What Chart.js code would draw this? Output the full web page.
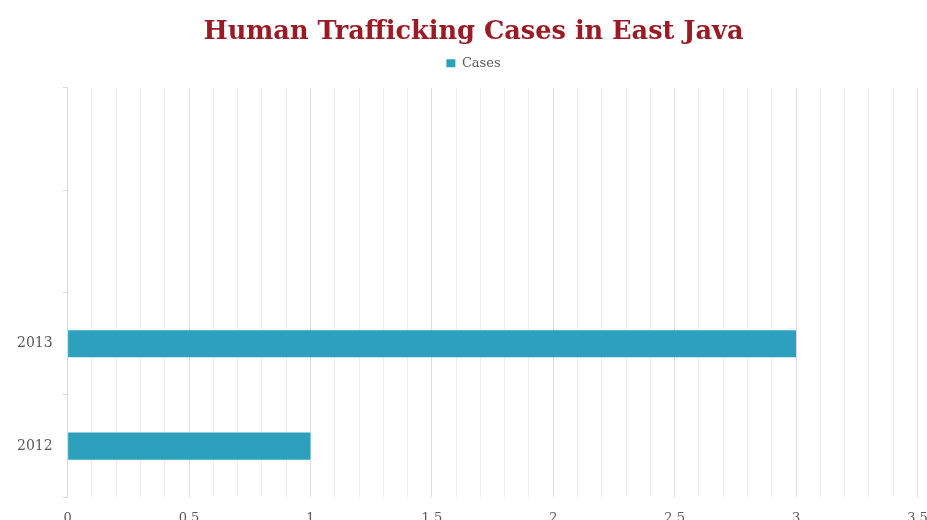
<!DOCTYPE html>
<html>
<head>
<meta charset="utf-8">
<script src="https://cdn.jsdelivr.net/npm/chart.js@4.4.1/dist/chart.umd.min.js"></script>
<style>
    html, body { margin: 0; padding: 0; background: #ffffff; overflow: hidden; }
    #wrap { position: absolute; left: 0; top: 0; width: 940px; height: 539px; }
</style>
</head>
<body>
<div id="wrap"><canvas id="casesChart"></canvas></div>
<script>
// bottom-up order (axis is reversed), the two top slots are empty in the original
const years = ['2012', '2013', '', ''];
const cases = [1, 3, null, null];
const xMin = 0;
const xMax = 3.5;
const xStep = 0.1;

const tickGray = '#595959';

function isHalfStep(v) {
    return Math.abs(v * 2 - Math.round(v * 2)) < 1e-6;
}

// extra room between the legend and the plot
const legendMargin = {
    id: 'legendMargin',
    beforeInit(chart) {
        const fit = chart.legend.fit;
        chart.legend.fit = function () {
            fit.bind(chart.legend)();
            this.height += 8;
        };
    }
};

const ctx = document.getElementById('casesChart').getContext('2d');
new Chart(ctx, {
    type: 'bar',
    data: {
        labels: years,
        datasets: [{
            label: 'Cases',
            data: cases,
            backgroundColor: '#2da0be',
            borderWidth: 0,
            categoryPercentage: 1,
            barPercentage: 0.265
        }]
    },
    plugins: [legendMargin],
    options: {
        indexAxis: 'y',
        responsive: true,
        maintainAspectRatio: false,
        animation: false,
        layout: { padding: { left: 7, right: 0, top: 1, bottom: 0 } },
        plugins: {
            title: {
                display: true,
                text: 'Human Trafficking Cases in East Java',
                color: '#9b1b25',
                font: { family: '"DejaVu Serif", serif', size: 25.6, weight: 'bold' },
                padding: { top: 16, bottom: 1 }
            },
            legend: {
                display: true,
                position: 'top',
                labels: {
                    color: tickGray,
                    boxWidth: 9,
                    boxHeight: 8,
                    padding: 8,
                    font: { family: '"DejaVu Serif", serif', size: 13 }
                }
            },
            tooltip: { enabled: false }
        },
        scales: {
            x: {
                min: xMin,
                max: xMax,
                border: { display: false },
                grid: {
                    drawTicks: false,
                    color: ctx => isHalfStep(ctx.tick ? ctx.tick.value : 0) ? '#dedede' : '#ececec'
                },
                ticks: {
                    stepSize: xStep,
                    autoSkip: false,
                    maxRotation: 0,
                    padding: 13,
                    color: tickGray,
                    font: { family: '"DejaVu Serif", serif', size: 13 },
                    callback: v => isHalfStep(v) ? String(Math.round(v * 10) / 10) : ''
                },
                afterFit: scale => { scale.paddingRight = 22.5; }
            },
            y: {
                reverse: true,
                offset: true,
                border: { display: true, color: '#d9d9d9' },
                grid: {
                    offset: true,
                    drawOnChartArea: false,
                    drawTicks: true,
                    tickLength: 5,
                    color: '#d9d9d9'
                },
                ticks: {
                    padding: 10,
                    color: tickGray,
                    font: { family: '"DejaVu Serif", serif', size: 14 }
                }
            }
        }
    }
});
</script>
</body>
</html>
